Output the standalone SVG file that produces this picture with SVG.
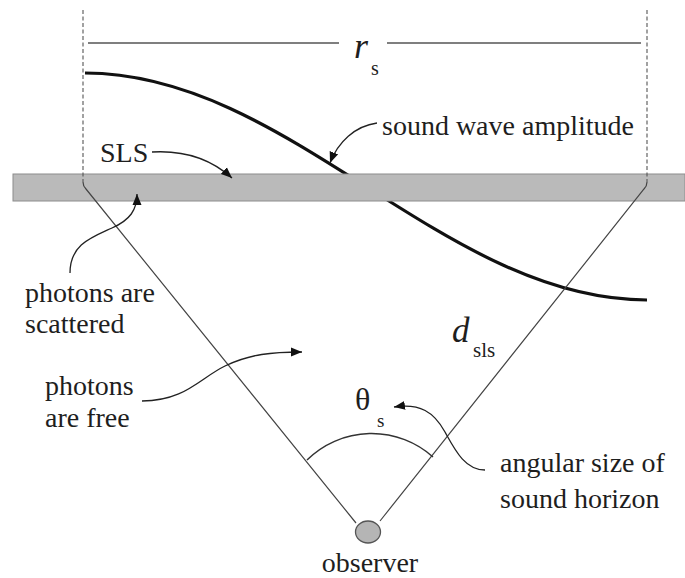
<svg xmlns="http://www.w3.org/2000/svg" width="685" height="578" viewBox="0 0 685 578">
<style>
text{font-family:"Liberation Serif","Times New Roman",Times,"DejaVu Serif",serif;fill:#1e1e1e}
.lbl{font-size:28px}
.it{font-style:italic}
.thin{fill:none;stroke:#444;stroke-width:1.2}
.dash{fill:none;stroke:#555;stroke-width:1.1;stroke-dasharray:4 2.5}
.arr{fill:none;stroke:#222;stroke-width:1.3;marker-end:url(#ah)}
</style>
<defs>
<marker id="ah" markerUnits="userSpaceOnUse" markerWidth="12" markerHeight="10" refX="11" refY="4.5" orient="auto" viewBox="0 0 12 9">
<path d="M0,0 L11,4.5 L0,9 z" fill="#111"/>
</marker>
</defs>
<rect width="685" height="578" fill="#fff"/>
<g id="wave">
<path d="M85,73 C289,73 443,300 647,300" fill="none" stroke="#111" stroke-width="3.2"/>
</g>
<g id="sls">
<rect x="13" y="174" width="672" height="27" fill="#bababa" stroke="#8c8c8c" stroke-width="1"/>
</g>
<g id="geometry">
<line class="dash" x1="83" y1="10" x2="83" y2="182"/>
<line class="dash" x1="647" y1="10" x2="647" y2="182"/>
<path class="thin" d="M83,182 Q83,186 86,189 L356,523"/>
<path class="thin" d="M647,182 Q647,186 644,189 L380,521"/>
<path d="M307,460 A92,92 0 0 1 433,457" fill="none" stroke="#333" stroke-width="1.5"/>
<line x1="88" y1="43" x2="339" y2="43" stroke="#555" stroke-width="1.5"/>
<line x1="387" y1="43" x2="641" y2="43" stroke="#555" stroke-width="1.5"/>
</g>
<g id="observer">
<ellipse cx="368" cy="532" rx="12.5" ry="11" fill="#b5b5b5" stroke="#555" stroke-width="1.3"/>
<text class="lbl" x="370" y="572" text-anchor="middle" font-family="Liberation Serif, serif">observer</text>
</g>
<g id="connectors">
<path class="arr" d="M152,152 C185,150 212,160 232,178"/>
<path class="arr" d="M70,273 C70,245 90,238 112,228 C130,220 137,210 137,194"/>
<path class="arr" d="M142,401 C185,401 200,378 225,366 C250,354 272,352 302,352"/>
<path class="arr" d="M377,123 C355,126 338,142 330,163"/>
<path class="arr" d="M485,470 C465,470 455,450 445,432 C434,412 420,403 394,407"/>
</g>
<g id="labels">
<text class="lbl" x="382" y="135">sound wave amplitude</text>
<text class="lbl" x="100" y="162">SLS</text>
<text class="lbl" x="25" y="302">photons are</text>
<text class="lbl" x="25" y="333">scattered</text>
<text class="lbl" x="45" y="395">photons</text>
<text class="lbl" x="45" y="427">are free</text>
<text class="lbl" x="500" y="472">angular size of</text>
<text class="lbl" x="500" y="508">sound horizon</text>
</g>
<g id="math">
<text class="it" x="354" y="58" font-size="36">r</text>
<text x="371" y="75" font-size="20">s</text>
<text class="it" x="452" y="342" font-size="35">d</text>
<text x="473" y="357" font-size="21">sls</text>
<text x="355" y="410" font-size="32">θ</text>
<text x="377" y="427" font-size="19">s</text>
</g>
</svg>
